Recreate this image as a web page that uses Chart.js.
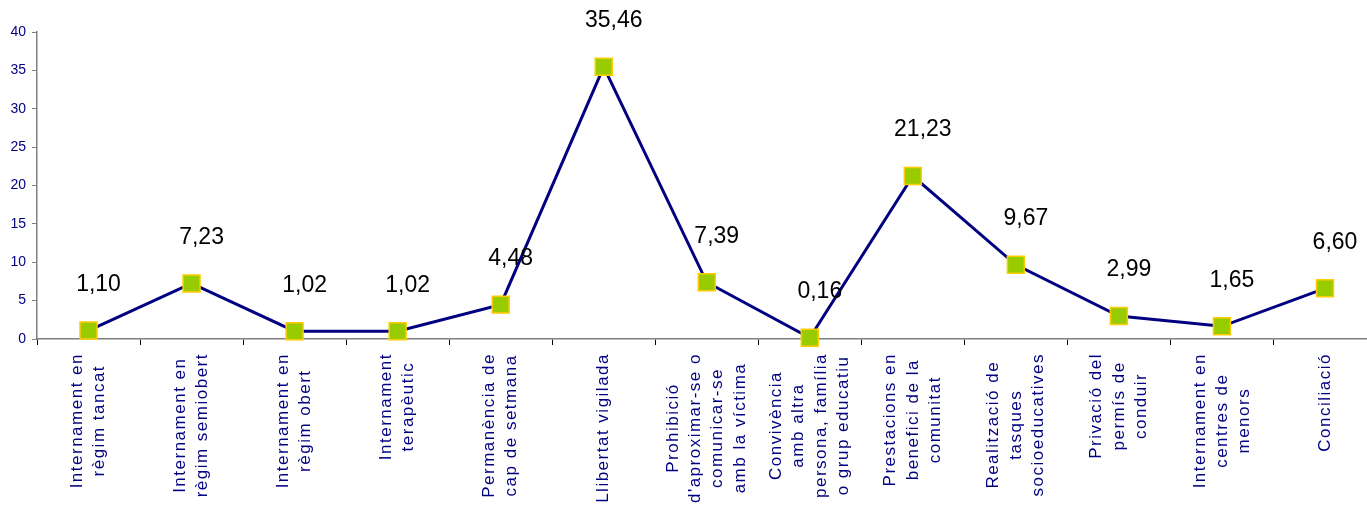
<!DOCTYPE html>
<html>
<head>
<meta charset="utf-8">
<script src="https://cdn.jsdelivr.net/npm/chart.js@4/dist/chart.umd.min.js"></script>
<style>
    html, body { margin: 0; padding: 0; background: #ffffff; overflow: hidden; }
    #chart { display: block; }
</style>
</head>
<body>
<!-- wider than the window: the point overflow padding on the right falls outside the view -->
<canvas id="chart" width="1390" height="507"></canvas>
<script>
const categories = [
    ['Internament en', 'règim tancat'],
    ['Internament en', 'règim semiobert'],
    ['Internament en', 'règim obert'],
    ['Internament', 'terapèutic'],
    ['Permanència de', 'cap de setmana'],
    ['Llibertat vigilada'],
    ['Prohibició', "d'aproximar-se o", 'comunicar-se', 'amb la víctima'],
    ['Convivència', 'amb altra', 'persona, família', 'o grup educatiu'],
    ['Prestacions en', 'benefici de la', 'comunitat'],
    ['Realització de', 'tasques', 'socioeducatives'],
    ['Privació del', 'permís de', 'conduir'],
    ['Internament en', 'centres de', 'menors'],
    ['Conciliació']
];
const values = [1.10, 7.23, 1.02, 1.02, 4.48, 35.46, 7.39, 0.16, 21.23, 9.67, 2.99, 1.65, 6.60];
const yTicks = [0, 5, 10, 15, 20, 25, 30, 35, 40];

const NAVY = '#000080';
const AXIS_GREY = '#808080';
const LABEL_SPACING = '1.5px';

// value labels drawn above each marker
const valueLabels = {
    id: 'valueLabels',
    afterDatasetsDraw(chart) {
        const ctx = chart.ctx;
        const meta = chart.getDatasetMeta(0);
        ctx.save();
        ctx.letterSpacing = '0px';
        ctx.font = "23px 'Liberation Sans', Arial, sans-serif";
        ctx.fillStyle = '#000000';
        ctx.textAlign = 'center';
        ctx.textBaseline = 'middle';
        meta.data.forEach((pt, i) => {
            const txt = values[i].toFixed(2).replace('.', ',');
            ctx.fillText(txt, pt.x + 10, pt.y - 46);
        });
        ctx.restore();
    }
};

// centre the rotated multi-line category labels like the original
function patchXScale(scale) {
    if (scale._patched) return;
    const origItems = scale._computeLabelItems;
    scale._computeLabelItems = function (area) {
        const items = origItems.call(this, area);
        const c = this.ctx;
        items.forEach(item => {
            const lines = Array.isArray(item.label) ? item.label : [item.label];
            const lh = item.font.lineHeight;
            c.save();
            c.font = item.font.string;
            c.letterSpacing = LABEL_SPACING;
            const maxW = Math.max(...lines.map(l => c.measureText(l).width));
            c.restore();
            item.textOffset -= (lines.length - 1) / 2 * lh;
            const opts = item.options || item;
            opts.textAlign = 'center';
            opts.translation[1] += maxW / 2;
        });
        return items;
    };
    const origDraw = scale.drawLabels;
    scale.drawLabels = function (area) {
        const c = this.ctx;
        c.save();
        c.letterSpacing = LABEL_SPACING;
        origDraw.call(this, area);
        c.restore();
    };
    scale._patched = true;
}

new Chart(document.getElementById('chart'), {
    type: 'line',
    data: {
        labels: categories,
        datasets: [{
            data: values,
            borderColor: NAVY,
            borderWidth: 3,
            pointStyle: 'rect',
            pointRadius: 12,
            pointHoverRadius: 12,
            pointBackgroundColor: '#99cc00',
            pointBorderColor: '#ffcc00',
            pointBorderWidth: 1.5,
            tension: 0,
            clip: false
        }]
    },
    options: {
        responsive: false,
        animation: false,
        layout: { padding: { top: 32, left: 0, right: 0, bottom: 0 } },
        plugins: {
            legend: { display: false },
            tooltip: { enabled: false }
        },
        scales: {
            x: {
                offset: true,
                border: { color: AXIS_GREY, width: 1.5 },
                grid: {
                    display: true,
                    drawOnChartArea: false,
                    drawTicks: true,
                    tickLength: 6,
                    color: '#000000',
                    offset: true
                },
                ticks: {
                    autoSkip: false,
                    minRotation: 90,
                    maxRotation: 90,
                    padding: 8,
                    color: NAVY,
                    font: { family: "'Liberation Sans', Arial, sans-serif", size: 17, lineHeight: 1.3 }
                },
                afterFit(scale) {
                    scale.height = 168;
                    scale.paddingLeft = 0;
                    scale.paddingRight = 0;
                    patchXScale(scale);
                }
            },
            y: {
                min: 0,
                max: 40,
                border: { color: AXIS_GREY, width: 1.5 },
                grid: {
                    display: true,
                    drawOnChartArea: false,
                    drawTicks: true,
                    tickLength: 5,
                    color: AXIS_GREY
                },
                afterBuildTicks(scale) {
                    scale.ticks = yTicks.map(v => ({ value: v }));
                },
                ticks: {
                    padding: 6,
                    color: NAVY,
                    font: { family: "'Liberation Sans', Arial, sans-serif", size: 14 }
                },
                afterFit(scale) {
                    scale.width = 37;
                }
            }
        }
    },
    plugins: [valueLabels]
});
</script>
</body>
</html>
